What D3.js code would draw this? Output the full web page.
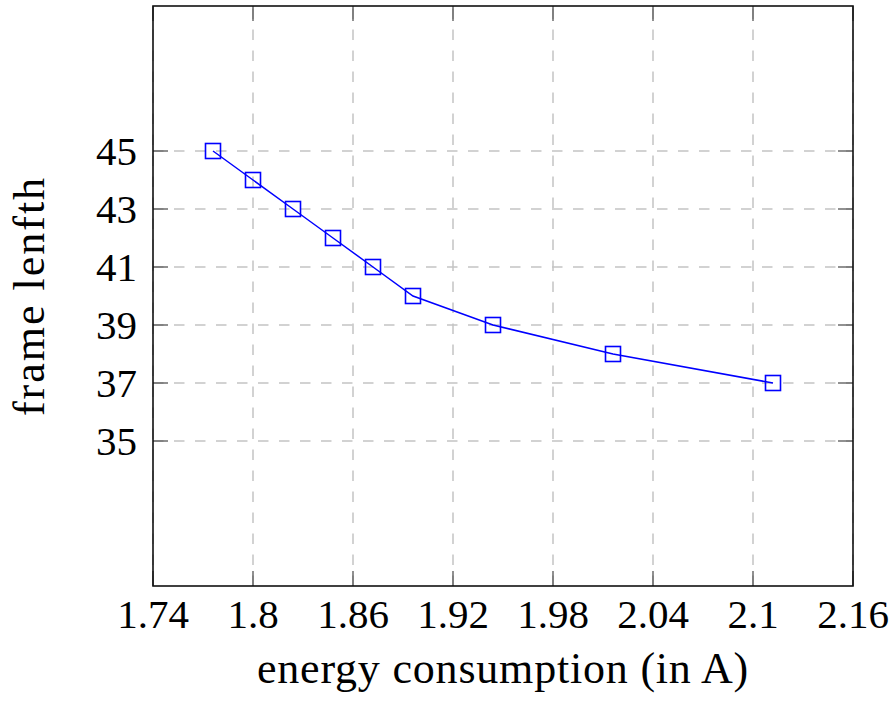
<!DOCTYPE html>
<html lang="en">
<head>
  <meta charset="UTF-8">
  <title>frame lenfth vs energy consumption</title>
  <script src="https://d3js.org/d3.v7.min.js"></script>
  <style>
    body {
      margin: 0;
      background: #fff;
    }
    svg text {
      font-family: 'Liberation Serif', 'Times New Roman', serif;
      fill: #000;
    }
    .tick-label { font-size: 41px; }
    .axis-title { font-size: 44px; }
  </style>
</head>
<body>
  <svg width="896" height="703"></svg>
  <script>
    // values
    const energy = [1.776, 1.8, 1.824, 1.848, 1.872, 1.896, 1.944, 2.016, 2.112];
    const frameLength = [45, 44, 43, 42, 41, 40, 39, 38, 37];
    const xTicks = [1.74, 1.8, 1.86, 1.92, 1.98, 2.04, 2.1, 2.16];
    const yTicks = [35, 37, 39, 41, 43, 45];

    const margin = { left: 153, top: 6, right: 43, bottom: 117 };
    const width = 896 - margin.left - margin.right;
    const height = 703 - margin.top - margin.bottom;

    const svg = d3.select("svg");
    const g = svg.append("g")
      .attr("transform", `translate(${margin.left},${margin.top})`);

    const x = d3.scaleLinear().domain([1.74, 2.16]).range([0, width]);
    const y = d3.scaleLinear().domain([30, 50]).range([height, 0]);

    // grid, dashes start at the axis like pgfplots
    g.selectAll(".vgrid")
      .data(xTicks)
      .enter()
      .append("line")
      .attr("x1", d => x(d)).attr("x2", d => x(d))
      .attr("y1", height).attr("y2", 0)
      .attr("stroke", "#c4c4c4")
      .attr("stroke-width", 1.5)
      .attr("stroke-dasharray", "10.5,10.5");

    g.selectAll(".hgrid")
      .data(yTicks)
      .enter()
      .append("line")
      .attr("x1", 0).attr("x2", width)
      .attr("y1", d => y(d)).attr("y2", d => y(d))
      .attr("stroke", "#c4c4c4")
      .attr("stroke-width", 1.5)
      .attr("stroke-dasharray", "10.5,10.5");

    // inward ticks on all four sides
    const tickLen = 15;
    const tickColor = "#555";
    xTicks.forEach(t => {
      g.append("line").attr("x1", x(t)).attr("x2", x(t))
        .attr("y1", height).attr("y2", height - tickLen)
        .attr("stroke", tickColor).attr("stroke-width", 1.3);
      g.append("line").attr("x1", x(t)).attr("x2", x(t))
        .attr("y1", 0).attr("y2", tickLen)
        .attr("stroke", tickColor).attr("stroke-width", 1.3);
    });
    yTicks.forEach(t => {
      g.append("line").attr("x1", 0).attr("x2", tickLen)
        .attr("y1", y(t)).attr("y2", y(t))
        .attr("stroke", tickColor).attr("stroke-width", 1.3);
      g.append("line").attr("x1", width).attr("x2", width - tickLen)
        .attr("y1", y(t)).attr("y2", y(t))
        .attr("stroke", tickColor).attr("stroke-width", 1.3);
    });

    // frame
    g.append("rect")
      .attr("width", width)
      .attr("height", height)
      .attr("fill", "none")
      .attr("stroke", "#111")
      .attr("stroke-width", 1.6);

    // tick labels
    g.selectAll(".xlab")
      .data(xTicks)
      .enter()
      .append("text")
      .attr("class", "tick-label")
      .attr("x", d => x(d))
      .attr("y", height + 42)
      .attr("text-anchor", "middle")
      .text(d => String(+d.toFixed(2)));

    g.selectAll(".ylab")
      .data(yTicks)
      .enter()
      .append("text")
      .attr("class", "tick-label")
      .attr("x", -16)
      .attr("y", d => y(d) + 14)
      .attr("text-anchor", "end")
      .text(d => d);

    // axis titles
    g.append("text")
      .attr("class", "axis-title")
      .attr("x", width / 2)
      .attr("y", 677)
      .attr("text-anchor", "middle")
      .style("letter-spacing", "0.8px")
      .text("energy consumption (in A)");

    g.append("text")
      .attr("class", "axis-title")
      .attr("transform", `translate(${44 - margin.left},${height / 2}) rotate(-90)`)
      .attr("text-anchor", "middle")
      .style("letter-spacing", "2px")
      .text("frame lenfth");

    // series
    const pts = energy.map((e, i) => ({ e, f: frameLength[i] }));
    const line = d3.line().x(d => x(d.e)).y(d => y(d.f));

    g.append("path")
      .datum(pts)
      .attr("d", line)
      .attr("fill", "none")
      .attr("stroke", "#0000ff")
      .attr("stroke-width", 1.5);

    const s = 15;
    g.selectAll(".mark")
      .data(pts)
      .enter()
      .append("rect")
      .attr("x", d => x(d.e) - s / 2)
      .attr("y", d => y(d.f) - s / 2)
      .attr("width", s)
      .attr("height", s)
      .attr("fill", "none")
      .attr("stroke", "#0000ff")
      .attr("stroke-width", 1.6);
  </script>
</body>
</html>
